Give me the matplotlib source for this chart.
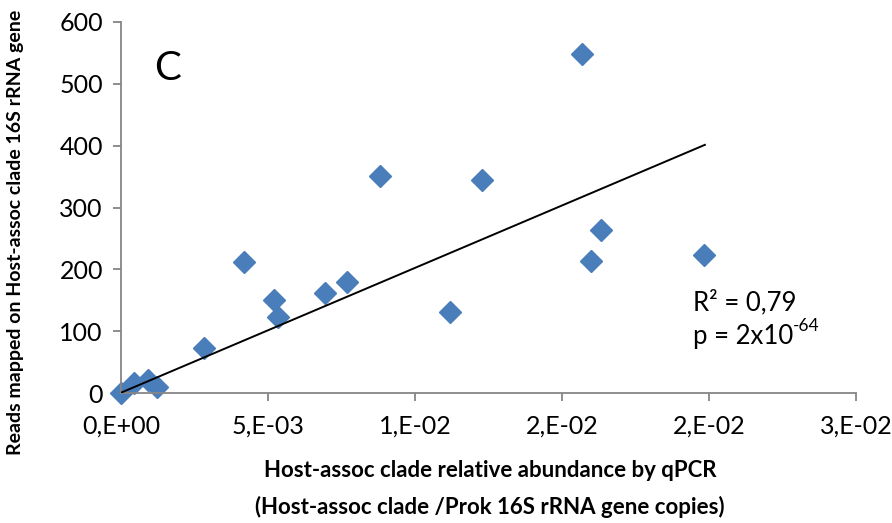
import matplotlib
matplotlib.use("Agg")
import matplotlib.pyplot as plt
import numpy as np

# ---- data ----
x_abund = [0.0, 0.00045, 0.00093, 0.00121, 0.00281, 0.00420, 0.00522, 0.00533,
           0.00695, 0.00770, 0.00880, 0.01119, 0.01228, 0.01569, 0.01633,
           0.01600, 0.01983]
y_reads = [0.0, 16, 21.5, 9.7, 73.7, 212.6, 150.7, 123.8,
           162.5, 180.3, 351.5, 130.9, 344.6, 548, 263.8,
           213.7, 223.4]
trend_intercept = 1.0
trend_slope = 20150.0
trend_x_range = [0.0, 0.01986]

x_ticks = [0.0, 0.005, 0.01, 0.015, 0.02, 0.025]
x_ticklabels = ["0,E+00", "5,E-03", "1,E-02", "2,E-02", "2,E-02", "3,E-02"]
y_ticks = [0, 100, 200, 300, 400, 500, 600]

panel_label = "C"
r2_text = "R\u00b2 = 0,79"
p_text = "p = 2x10"
p_exp = "-64"
xlabel = "Host-assoc clade relative abundance by qPCR\n(Host-assoc clade /Prok 16S rRNA gene copies)"
ylabel = "Reads mapped on Host-assoc clade 16S rRNA gene"

plt.rcParams['font.family'] = ['Lato', 'DejaVu Sans']

fig = plt.figure(figsize=(8.92, 5.23), dpi=100)
ax = fig.add_axes([121/892, 1-393.3/523, (856-121)/892, (393.3-21.7)/523])

axis_gray = "#868686"
ax.plot(trend_x_range,
        [trend_intercept + trend_slope * v for v in trend_x_range],
        color="black", lw=1.4, zorder=3)
ax.plot(x_abund, y_reads, linestyle="none", marker="D", ms=11,
        color="#4A7EBB", mec="#4A7EBB", zorder=2, clip_on=False)

ax.set_xlim(0, 0.025)
ax.set_ylim(0, 600)
ax.set_xticks(x_ticks)
ax.set_xticklabels(x_ticklabels)
ax.set_yticks(y_ticks)

for s in ["top", "right"]:
    ax.spines[s].set_visible(False)
for s in ["left", "bottom"]:
    ax.spines[s].set_color(axis_gray)
    ax.spines[s].set_linewidth(1.3)
ax.tick_params(axis="both", direction="out", length=6, width=1.3,
               color=axis_gray, labelsize=18, labelcolor="black")
ax.tick_params(axis="x", pad=9)
ax.tick_params(axis="y", pad=7)

ax.text(0.0016, 525, panel_label, fontsize=29, ha="center", va="center")

t1 = ax.text(0.01946, 146, r2_text, fontsize=18.5, ha="left", va="center")
t2 = ax.text(0.01946, 92, p_text, fontsize=18.5, ha="left", va="center")
ax.annotate(p_exp, xy=(1.0, 0.92), xycoords=t2, fontsize=12.5, ha="left", va="center")

fig.text(490/892, 1-489/523, xlabel, fontsize=16, fontweight="bold",
         ha="center", va="center", linespacing=1.85)
fig.text(16/892, 1-232/523, ylabel, fontsize=14, fontweight="bold",
         ha="center", va="center", rotation=90)

fig.savefig("out.png", dpi=100)
